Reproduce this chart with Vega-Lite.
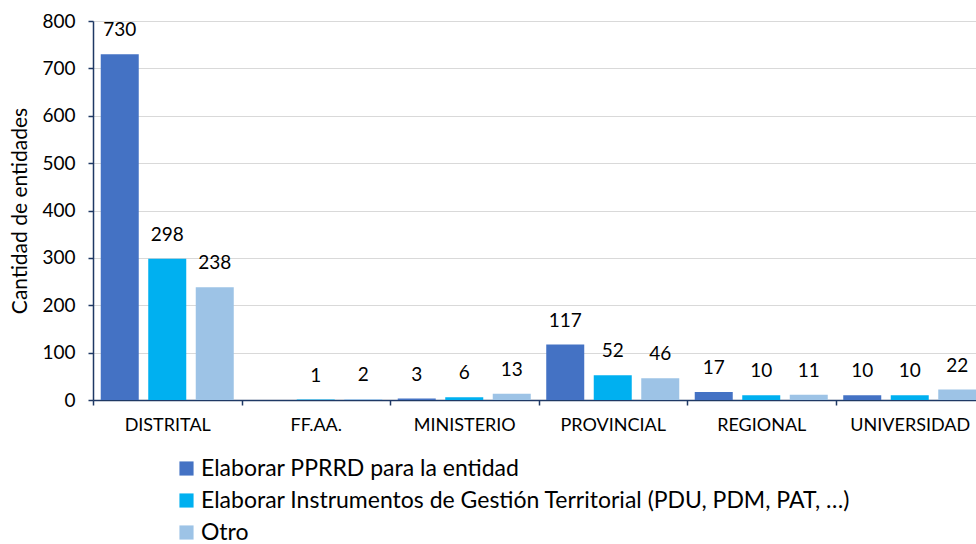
{
  "$schema": "https://vega.github.io/schema/vega-lite/v6.json",
  "width": 891,
  "height": 379,
  "autosize": {"type": "none"},
  "padding": {"left": 93, "top": 21, "right": 0, "bottom": 144},
  "background": "white",
  "config": {
    "font": "Lato",
    "view": {"stroke": null}
  },
  "data": {
    "values": [
      {"cat": "DISTRITAL", "serie": "Elaborar PPRRD para la entidad", "value": 730},
      {"cat": "DISTRITAL", "serie": "Elaborar Instrumentos de Gestión Territorial (PDU, PDM, PAT, …)", "value": 298},
      {"cat": "DISTRITAL", "serie": "Otro", "value": 238},
      {"cat": "FF.AA.", "serie": "Elaborar PPRRD para la entidad", "value": 0},
      {"cat": "FF.AA.", "serie": "Elaborar Instrumentos de Gestión Territorial (PDU, PDM, PAT, …)", "value": 1},
      {"cat": "FF.AA.", "serie": "Otro", "value": 2},
      {"cat": "MINISTERIO", "serie": "Elaborar PPRRD para la entidad", "value": 3},
      {"cat": "MINISTERIO", "serie": "Elaborar Instrumentos de Gestión Territorial (PDU, PDM, PAT, …)", "value": 6},
      {"cat": "MINISTERIO", "serie": "Otro", "value": 13},
      {"cat": "PROVINCIAL", "serie": "Elaborar PPRRD para la entidad", "value": 117},
      {"cat": "PROVINCIAL", "serie": "Elaborar Instrumentos de Gestión Territorial (PDU, PDM, PAT, …)", "value": 52},
      {"cat": "PROVINCIAL", "serie": "Otro", "value": 46},
      {"cat": "REGIONAL", "serie": "Elaborar PPRRD para la entidad", "value": 17},
      {"cat": "REGIONAL", "serie": "Elaborar Instrumentos de Gestión Territorial (PDU, PDM, PAT, …)", "value": 10},
      {"cat": "REGIONAL", "serie": "Otro", "value": 11},
      {"cat": "UNIVERSIDAD", "serie": "Elaborar PPRRD para la entidad", "value": 10},
      {"cat": "UNIVERSIDAD", "serie": "Elaborar Instrumentos de Gestión Territorial (PDU, PDM, PAT, …)", "value": 10},
      {"cat": "UNIVERSIDAD", "serie": "Otro", "value": 22}
    ]
  },
  "encoding": {
    "x": {
      "field": "cat", "type": "nominal", "sort": null,
      "scale": {"paddingInner": 0, "paddingOuter": 0},
      "axis": {
        "title": null, "labelAngle": 0, "labelFontSize": 18, "labelColor": "#000000",
        "labelPadding": 11, "domainColor": "#1F3864", "domainWidth": 1.5,
        "tickColor": "#1F3864", "tickSize": 5, "tickWidth": 1.5, "tickBand": "extent", "grid": false
      }
    },
    "xOffset": {
      "field": "serie", "type": "nominal", "sort": null,
      "scale": {"paddingInner": 0.2, "paddingOuter": 0.163}
    },
    "y": {
      "field": "value", "type": "quantitative",
      "scale": {"domain": [0, 800]},
      "axis": {
        "title": "Cantidad de entidades", "titleFontSize": 21, "titleFontWeight": "normal",
        "titleColor": "#000000", "titlePadding": 11,
        "labelFontSize": 19, "labelColor": "#000000", "labelPadding": 13,
        "values": [0, 100, 200, 300, 400, 500, 600, 700, 800],
        "domainColor": "#1F3864", "domainWidth": 1.5, "tickColor": "#1F3864", "tickSize": 5, "tickWidth": 1.5,
        "gridColor": "#D9D9D9", "gridWidth": 1.2
      }
    }
  },
  "layer": [
    {
      "mark": {"type": "bar"},
      "encoding": {
        "color": {
          "field": "serie", "type": "nominal", "sort": null,
          "scale": {
            "domain": ["Elaborar PPRRD para la entidad", "Elaborar Instrumentos de Gestión Territorial (PDU, PDM, PAT, …)", "Otro"],
            "range": ["#4472C4", "#00B0F0", "#9DC3E6"]
          },
          "legend": {
            "title": null, "orient": "none", "legendX": 82, "legendY": 436,
            "direction": "vertical", "symbolType": "square", "symbolSize": 200,
            "symbolStrokeWidth": 0, "labelFontSize": 23, "labelColor": "#000000",
            "rowPadding": 8, "labelOffset": 3, "labelLimit": 900
          }
        }
      }
    },
    {
      "transform": [{"filter": "datum.value > 0"}],
      "mark": {"type": "text", "baseline": "middle", "dy": -24, "fontSize": 19, "color": "#000000"},
      "encoding": {"text": {"field": "value", "type": "quantitative"}}
    }
  ]
}
